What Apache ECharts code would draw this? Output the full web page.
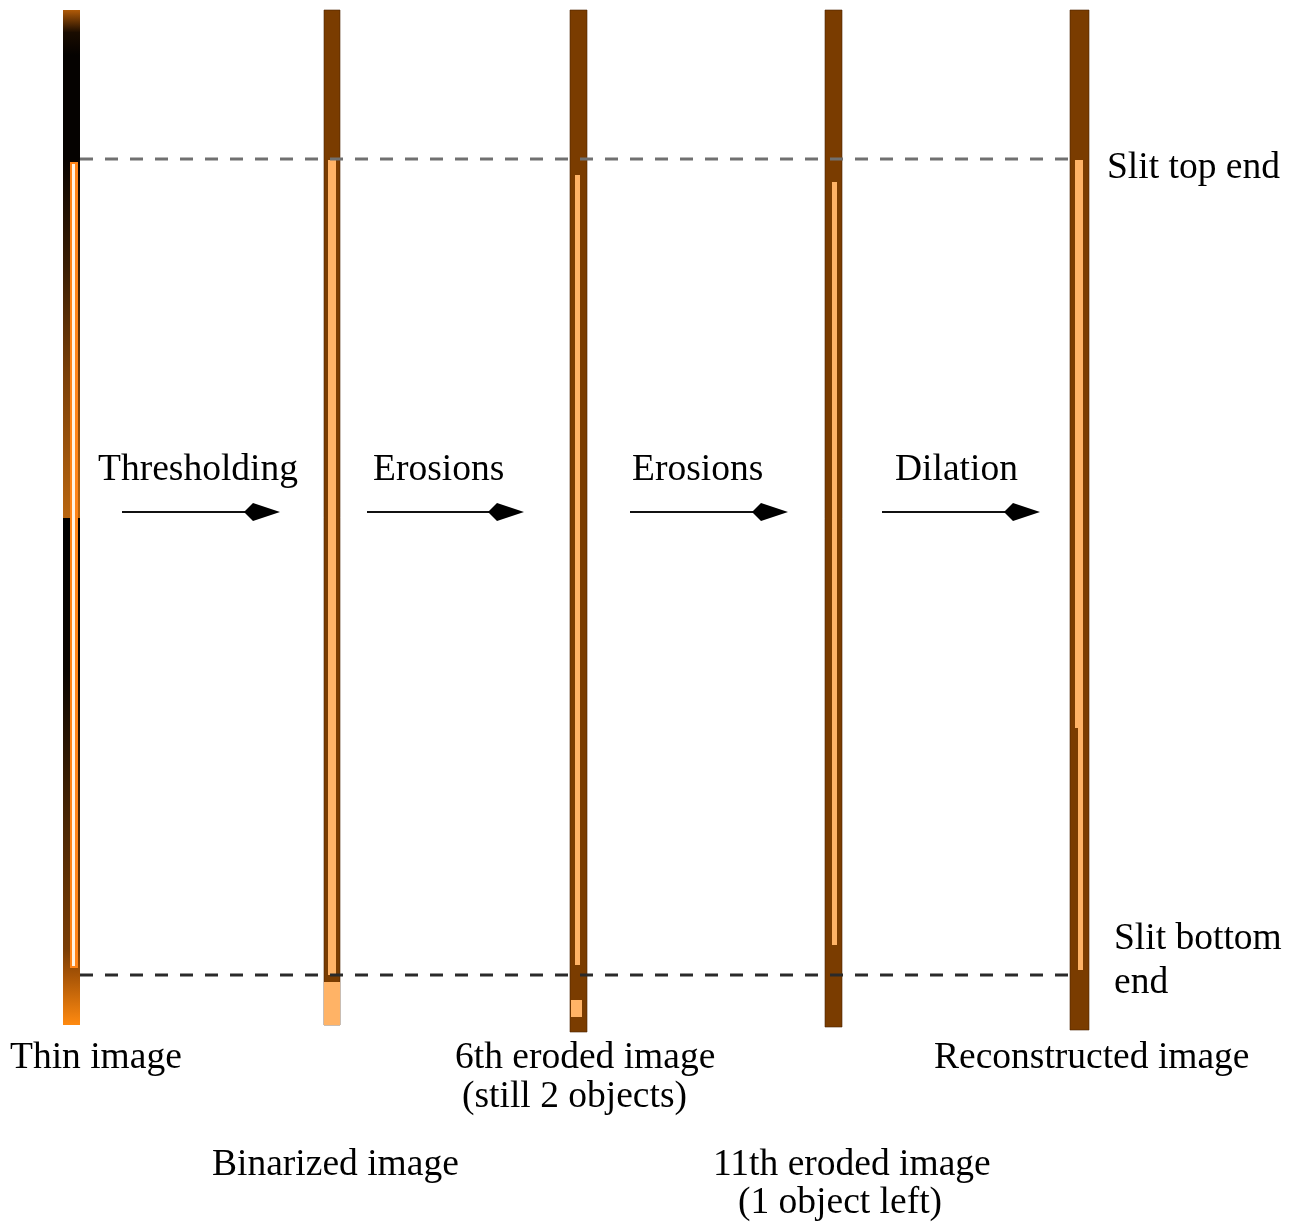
<!DOCTYPE html>
<html><head><meta charset="utf-8">
<script src="https://cdn.jsdelivr.net/npm/echarts@6/dist/echarts.min.js"></script>
<style>html,body{margin:0;padding:0;background:#fff}#c{width:1299px;height:1223px}</style>
</head><body><div id="c"></div>
<script>
// Diagram coordinates (units of the drawing space)
// Strip outlines: [x0, x1, yTop, yBottom]
const stripNames = ['Thin image','Binarized image','6th eroded image','11th eroded image','Reconstructed image'];
const stripBox = [[63,80,10,1025],[324,340,10,1025],[570,587,10,1032],[825,842,10,1027],[1070,1089,10,1030]];
// Inner bright segments: [stripIndex, x0, x1, yTop, yBottom]
const brightSegs = [
  [1,328,336,160,975],[1,324,340,982,1025],
  [2,575,580,175,965],[2,571,582,1000,1017],
  [3,832,837,182,945],
  [4,1075,1083,160,728],[4,1078,1083,728,970]
];
// Thin-image raw strip bands: [yTop, yBottom, [[offset,color],...]]
const thinBands = [
  [10,160,[[0,'#b05a08'],[0.15,'#1a0c00'],[0.3,'#050200'],[1,'#050200']]],
  [160,518,[[0,'#0a0400'],[0.3,'#3a1e04'],[0.6,'#7a3f08'],[1,'#b8650f']]],
  [518,1025,[[0,'#000000'],[0.3,'#0a0500'],[0.6,'#4a2604'],[0.85,'#7a3d05'],[0.9,'#a55306'],[1,'#ff8a10']]]
];
// Thin-image bright core: [x0, x1, yTop, yBottom]
const thinCore = [70,78,162,968];
// Dashed reference lines: [x0, x1, y]
const slitLines = [[80,1070,159],[80,1075,975]];
// Arrows: [xStart, xEnd, y]
const arrows = [[122,280,512],[367,524,512],[630,788,512],[882,1040,512]];
// Labels: [text, x(left), y(center)]
const labels = [
  ['Thresholding',98,470],['Erosions',373,470],['Erosions',632,470],['Dilation',895,470],
  ['Slit top end',1107,168],['Slit bottom',1114,939],['end',1114,983],
  ['Thin image',10,1058],['6th eroded image',455,1058],['(still 2 objects)',462,1097],
  ['Reconstructed image',934,1058],['Binarized image',212,1165],
  ['11th eroded image',713,1165],['(1 object left)',738,1203]
];

const BROWN = '#7a3c00', LIGHT = '#ffb366';
const chart = echarts.init(document.getElementById('c'));
function rect(api,x0,y0,x1,y1){const a=api.coord([x0,y0]),b=api.coord([x1,y1]);return {x:a[0],y:a[1],width:b[0]-a[0],height:b[1]-a[1]};}

chart.setOption({
  animation:false,
  grid:{left:0,right:0,top:0,bottom:0},
  xAxis:{type:'value',min:0,max:1299,show:false},
  yAxis:{type:'value',min:0,max:1223,inverse:true,show:false},
  series:[
    {type:'custom',data:thinBands.map((d,i)=>i),renderItem:(p,api)=>{
      const d=thinBands[p.dataIndex];const b=stripBox[0];
      return {type:'rect',shape:rect(api,b[0],d[0],b[1],d[1]),style:{fill:new echarts.graphic.LinearGradient(0,0,0,1,d[2].map(s=>({offset:s[0],color:s[1]})))}};
    }},
    {type:'custom',data:[0],renderItem:(p,api)=>{
      const c=thinCore;
      return {type:'group',children:[
        {type:'rect',shape:rect(api,c[0],c[2],c[1],c[3]),style:{fill:'#ff8418'}},
        {type:'rect',shape:rect(api,c[0]+2,c[2]+2,c[1]-3,c[3]-2),style:{fill:'#fff2e2'}}
      ]};
    }},
    {type:'custom',data:stripBox.slice(1),renderItem:(p,api)=>{
      const b=stripBox[p.dataIndex+1];
      return {type:'rect',shape:rect(api,b[0],b[2],b[1],b[3]),style:{fill:BROWN,stroke:'#4a2400',lineWidth:0.6}};
    }},
    {type:'custom',data:brightSegs,renderItem:(p,api)=>{
      const s=brightSegs[p.dataIndex];
      return {type:'rect',shape:rect(api,s[1],s[3],s[2],s[4]),style:{fill:LIGHT}};
    }},
    {type:'custom',data:slitLines,renderItem:(p,api)=>{
      const l=slitLines[p.dataIndex];const a=api.coord([l[0],l[2]]),b=api.coord([l[1],l[2]]);
      return {type:'line',shape:{x1:a[0],y1:a[1],x2:b[0],y2:b[1]},style:{stroke:p.dataIndex===0?'#707070':'#2a2a2a',lineWidth:3,lineDash:[13,12]}};
    }},
    {type:'custom',data:arrows,renderItem:(p,api)=>{
      const r=arrows[p.dataIndex];const a=api.coord([r[0],r[2]]),e=api.coord([r[1],r[2]]);
      const hx=e[0]-36;
      return {type:'group',children:[
        {type:'line',shape:{x1:a[0],y1:a[1],x2:hx+5,y2:a[1]},style:{stroke:'#111',lineWidth:2}},
        {type:'polygon',shape:{points:[[hx,a[1]],[hx+9,a[1]-9],[e[0],a[1]],[hx+9,a[1]+9]]},style:{fill:'#000'}}
      ]};
    }},
    {type:'custom',data:labels,renderItem:(p,api)=>{
      const t=labels[p.dataIndex];const c=api.coord([t[1],t[2]]);
      return {type:'text',x:c[0],y:c[1],style:{text:t[0],fill:'#000',font:'37.5px "Liberation Serif", "DejaVu Serif", serif',textAlign:'left',textVerticalAlign:'middle'}};
    }}
  ]
});
</script></body></html>
